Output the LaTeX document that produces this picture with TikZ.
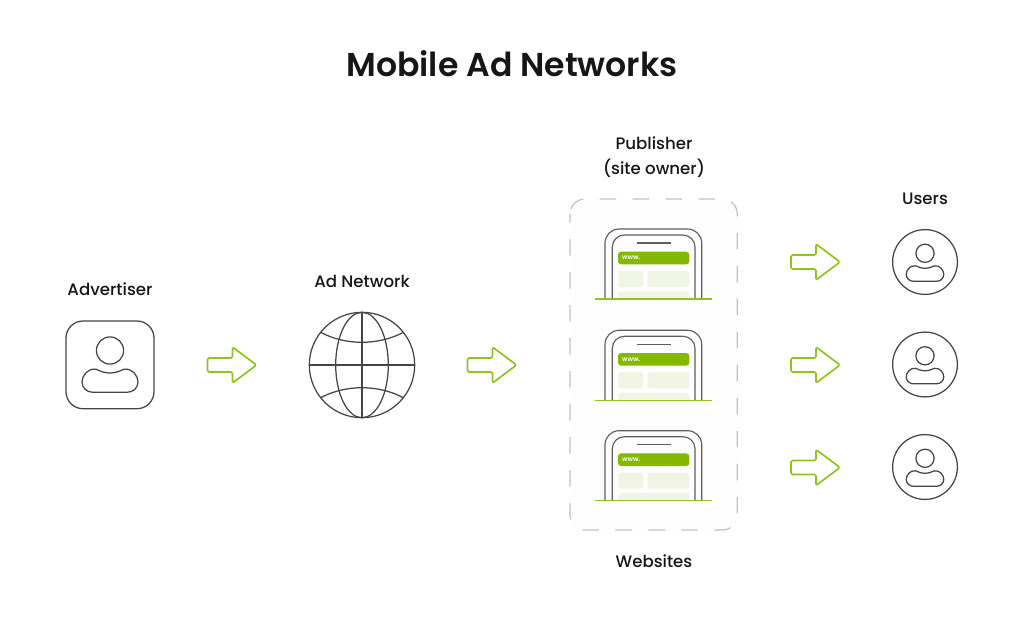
\documentclass[tikz,border=0pt]{standalone}
\usepackage{fontspec}
\setmainfont{Poppins}[UprightFont=* Medium,BoldFont=* SemiBold]
\definecolor{ink}{HTML}{454545}
\definecolor{phoneink}{HTML}{5E5E5E}
\definecolor{adgreen}{HTML}{84B900}
\definecolor{arrowgreen}{HTML}{8FC31F}
\definecolor{cellgreen}{HTML}{EFF5E2}
\definecolor{panelgrey}{HTML}{FDFDFD}
\definecolor{dashgrey}{HTML}{C2C2C2}
\definecolor{textblack}{HTML}{161616}
\tikzset{
  x=1pt,y=-1pt,
  outline/.style={draw=ink,line width=1.25pt},
  phoneline/.style={draw=phoneink,line width=1.15pt},
  flowarrow/.style={draw=arrowgreen,line width=1.7pt,line join=round,fill=white,rounded corners=1.5pt},
  label/.style={text=textblack,font=\fontsize{16.6}{20}\selectfont,inner sep=0pt,align=center},
  cell/.style={fill=cellgreen,rounded corners=2.5pt},
}
\newcommand{\flowarrowat}[2]{%
  \draw[flowarrow,shift={(#1,#2)}] (0,-7) -- (25,-7) -- (25,-18) -- (49,0) -- (25,18) -- (25,7) -- (0,7) -- cycle;}
\newcommand{\personat}[3]{%
  \begin{scope}[shift={(#1,#2)},x=#3pt,y=-#3pt]
    \draw[outline] (0,-14.5) circle[radius=13.6];
    \draw[outline] (0,8) .. controls (-5,8) and (-9,6.5) .. (-14,4.2)
      .. controls (-22,3) and (-28,10.5) .. (-28,17)
      .. controls (-28,23) and (-23,27.3) .. (-17,27.3)
      -- (17,27.3)
      .. controls (23,27.3) and (28,23) .. (28,17)
      .. controls (28,10.5) and (22,3) .. (14,4.2)
      .. controls (9,6.5) and (5,8) .. (0,8) -- cycle;
  \end{scope}}
\newcommand{\phoneat}[1]{%
  \begin{scope}[shift={(0,#1)}]
    \draw[phoneline,rounded corners=14pt] (605,299) -- (605,229) -- (701.7,229) -- (701.7,299);
    \draw[phoneline,rounded corners=12pt] (612.3,299) -- (612.3,235) -- (695,235) -- (695,299);
    \draw[phoneline] (636.7,243) -- (670.7,243);
    \fill[adgreen,rounded corners=3pt] (618,251.7) rectangle (689.3,264.3);
    \node[anchor=west,text=white,inner sep=0pt,font=\fontsize{6.5}{7}\bfseries\selectfont] at (622,258.2) {www.};
    \fill[cell] (618.3,271) rectangle (643,287);
    \fill[cell] (647.7,271) rectangle (689.3,287);
    \fill[cellgreen] (618.3,299) [rounded corners=2.5pt] -- (618.3,291.5) -- (689.3,291.5) [sharp corners] -- (689.3,299) -- cycle;
    \draw[arrowgreen,line width=1.3pt] (594.7,299) -- (712.3,299);
  \end{scope}}
\begin{document}
\begin{tikzpicture}
\useasboundingbox (0,0) rectangle (1024,622);
\node[label,font=\fontsize{33.1}{40}\bfseries\selectfont] (title) at (512,63.5) {Mobile Ad Networks};
\node[label] (advertiser) at (110,289.5) {Advertiser};
\node[label] (adnetwork) at (362,281.5) {Ad Network};
\node[label] (publisher) at (654,156.8) {Publisher\\[4.9pt](site owner)};
\node[label] (websites) at (654,561.5) {Websites};
\node[label] (users) at (925,198.5) {Users};
% advertiser
\draw[outline,rounded corners=17pt] (66,321) rectangle (154,408.7);
\personat{110}{365}{1}
% globe
\draw[outline] (362,365) circle[radius=52.7];
\draw[outline] (362,365) ellipse[x radius=26.3,y radius=52.7];
\draw[outline] (362,312.3) -- (362,417.7);
\draw[outline] (309.3,365) -- (414.7,365);
\draw[outline] (320.7,332.3) .. controls (333,339) and (348,342.3) .. (362,342.3) .. controls (376,342.3) and (391,339) .. (403.3,332.3);
\draw[outline] (320.7,397.7) .. controls (333,391) and (348,387.7) .. (362,387.7) .. controls (376,387.7) and (391,391) .. (403.3,397.7);
% panel
\draw[draw=dashgrey,fill=panelgrey,line width=1.2pt,rounded corners=15pt,dash pattern=on 16.5pt off 16.5pt,dash phase=8pt] (570,199) rectangle (737.3,530);
\phoneat{0}
\phoneat{101.3}
\phoneat{201.7}
% arrows
\flowarrowat{207.5}{365}
\flowarrowat{467.5}{365}
\flowarrowat{791}{262}
\flowarrowat{791}{365}
\flowarrowat{791}{467.5}
% users
\draw[outline] (925,262) circle[radius=32.4];
\personat{925}{263}{0.67}
\draw[outline] (925,364.5) circle[radius=32.4];
\personat{925}{365.5}{0.67}
\draw[outline] (925,467) circle[radius=32.4];
\personat{925}{468}{0.67}
\end{tikzpicture}
\end{document}
